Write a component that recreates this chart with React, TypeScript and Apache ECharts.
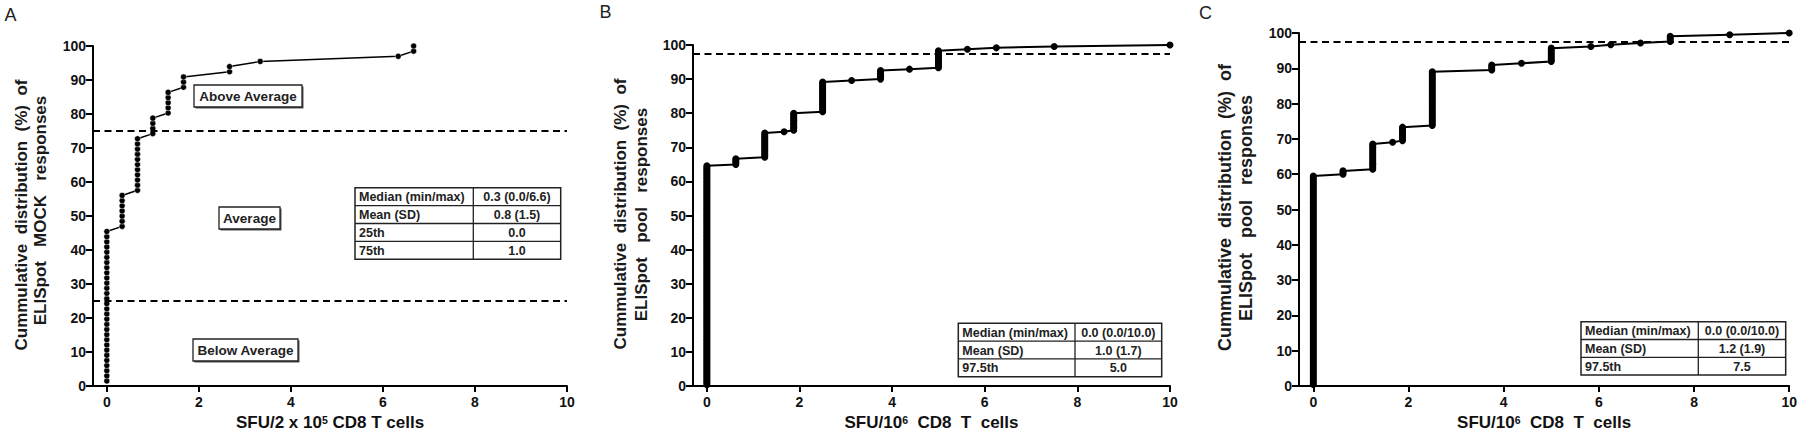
import React, { useEffect, useRef } from 'react';
import * as echarts from 'echarts';

// ---------- data ----------
const xTicks = [0, 2, 4, 6, 8, 10];

// Panel A: observed SFU values and number of donors at each value
const valuesA = [0, 0.333, 0.667, 1.0, 1.333, 1.667, 2.667, 3.333, 6.333, 6.667];
const countsA = [30, 7, 11, 4, 5, 3, 2, 1, 1, 2];
const thresholdsA = [75, 25];

// Panel B
const valuesB = [0, 0.625, 1.25, 1.667, 1.875, 2.5, 3.125, 3.75, 4.375, 5.0, 5.625, 6.25, 7.5, 10];
const countsB = [155, 5, 18, 1, 13, 22, 1, 7, 1, 13, 1, 1, 1, 1];
const thresholdsB = [97.5];

// Panel C
const valuesC = [0, 0.625, 1.25, 1.667, 1.875, 2.5, 3.75, 4.375, 5.0, 5.833, 6.25, 6.875, 7.5, 8.75, 10];
const countsC = [125, 3, 16, 1, 9, 33, 4, 1, 9, 1, 1, 1, 4, 1, 1];
const thresholdsC = [97.5];

const tableA = [
  ['Median (min/max)', '0.3 (0.0/6.6)'],
  ['Mean (SD)', '0.8 (1.5)'],
  ['25th', '0.0'],
  ['75th', '1.0'],
];
const tableB = [
  ['Median (min/max)', '0.0 (0.0/10.0)'],
  ['Mean (SD)', '1.0 (1.7)'],
  ['97.5th', '5.0'],
];
const tableC = [
  ['Median (min/max)', '0.0 (0.0/10.0)'],
  ['Mean (SD)', '1.2 (1.9)'],
  ['97.5th', '7.5'],
];

const zoneLabelsA = ['Above Average', 'Average', 'Below Average'];
const panelLetters = ['A', 'B', 'C'];
const yTitleA = ['Cummulative distribution (%) of', 'ELISpot MOCK responses'];
const yTitleB = ['Cummulative distribution (%) of', 'ELISpot pool responses'];
const yTitleC = ['Cummulative distribution (%) of', 'ELISpot pool responses'];
const xTitleA = 'SFU/2 x 10{sup|5} CD8 T cells';
const xTitleBC = 'SFU/10{sup|6}\u00a0\u00a0CD8\u00a0\u00a0T\u00a0\u00a0cells';

// ---------- helpers ----------
const FONT = "'Liberation Sans', Arial, Helvetica, sans-serif";
const INK = '#111';

function ecdf(values: number[], counts: number[]) {
  const n = counts.reduce((a, b) => a + b, 0);
  const pts: number[][] = [];
  let i = 0;
  values.forEach((v, k) => {
    for (let j = 0; j < counts[k]; j++) {
      i++;
      pts.push([v, (i / n) * 100]);
    }
  });
  return pts;
}

function txt(x: number, y: number, text: string, size: number, opts: any = {}) {
  return {
    type: 'text',
    x,
    y,
    rotation: opts.rotation || 0,
    silent: true,
    style: {
      text,
      fontSize: size,
      fontWeight: opts.weight || 'bold',
      fontFamily: FONT,
      fill: opts.fill || INK,
      align: opts.align || 'center',
      textAlign: opts.align || 'center',
      verticalAlign: 'middle',
      textVerticalAlign: 'middle',
    },
  };
}

function yTitle(cx1: number, cy1: number, cx2: number, cy2: number, lines: string[], size: number, sp1: number, sp2: number) {
  return [
    txt(cx1, cy1, lines[0].split(' ').join('\u00a0'.repeat(sp1)), size, { rotation: Math.PI / 2, fill: '#1a1a1a' }),
    txt(cx2, cy2, lines[1].split(' ').join('\u00a0'.repeat(sp2)), size, { rotation: Math.PI / 2, fill: '#1a1a1a' }),
  ];
}

function table(x: number, y: number, w1: number, w2: number, rh: number, rows: string[][]) {
  const els: any[] = [];
  const h = rh * rows.length;
  els.push({
    type: 'rect', silent: true,
    shape: { x, y, width: w1 + w2, height: h },
    style: { fill: '#fff', stroke: '#222', lineWidth: 1.5 },
  });
  for (let r = 1; r < rows.length; r++) {
    els.push({
      type: 'line', silent: true,
      shape: { x1: x, y1: y + r * rh, x2: x + w1 + w2, y2: y + r * rh },
      style: { stroke: '#222', lineWidth: 1.3 },
    });
  }
  els.push({
    type: 'line', silent: true,
    shape: { x1: x + w1, y1: y, x2: x + w1, y2: y + h },
    style: { stroke: '#222', lineWidth: 1.3 },
  });
  rows.forEach((row, r) => {
    const cy = y + r * rh + rh / 2 + 0.5;
    els.push(txt(x + 4, cy, row[0], 12.5, { align: 'left', fill: '#222' }));
    els.push(txt(x + w1 + w2 / 2, cy, row[1], 12.5, { fill: '#222' }));
  });
  return els;
}

function zoneBox(cx: number, cy: number, w: number, h: number, text: string) {
  return [
    {
      type: 'rect', silent: true,
      shape: { x: cx - w / 2 + 1.5, y: cy - h / 2 + 1.5, width: w, height: h },
      style: { fill: '#555' },
    },
    {
      type: 'rect', silent: true,
      shape: { x: cx - w / 2, y: cy - h / 2, width: w, height: h },
      style: { fill: '#fff', stroke: '#222', lineWidth: 1.3 },
    },
    txt(cx, cy + 0.5, text, 13.5, { fill: '#222' }),
  ];
}

function xAxisCfg(idx: number, name: string, gap: number) {
  return {
    type: 'value',
    gridIndex: idx,
    min: -0.3,
    max: 10,
    name,
    nameLocation: 'middle',
    nameGap: gap,
    nameTextStyle: {
      fontSize: 17,
      fontWeight: 'bold',
      fontFamily: FONT,
      color: INK,
      rich: {
        sup: { fontSize: 10.5, fontWeight: 'bold', fontFamily: FONT, color: INK, verticalAlign: 'top', lineHeight: 11 },
      },
    },
    axisLine: { show: true, onZero: false, lineStyle: { color: '#000', width: 2 } },
    axisTick: { show: true, length: 6, customValues: xTicks, lineStyle: { color: '#000', width: 2 } },
    axisLabel: { customValues: xTicks, margin: 9, fontSize: 14, fontWeight: 'bold', fontFamily: FONT, color: INK },
    splitLine: { show: false },
  };
}

function yAxisCfg(idx: number) {
  return {
    type: 'value',
    gridIndex: idx,
    min: 0,
    max: 100,
    interval: 10,
    axisLine: { show: true, onZero: false, lineStyle: { color: '#000', width: 2 } },
    axisTick: { show: true, length: 7, lineStyle: { color: '#000', width: 2 } },
    axisLabel: { margin: 7, fontSize: 14, fontWeight: 'bold', fontFamily: FONT, color: INK },
    splitLine: { show: false },
  };
}

function markLines(th: number[]) {
  return {
    silent: true,
    symbol: ['none', 'none'],
    label: { show: false },
    lineStyle: { color: '#000', width: 2, type: [7, 4.5] },
    data: th.map((v) => ({ yAxis: v })),
  };
}

function lineSeries(idx: number, data: number[][], size: number, width: number, th: number[], beaded: boolean) {
  return {
    type: 'line',
    xAxisIndex: idx,
    yAxisIndex: idx,
    data,
    clip: false,
    symbol: 'circle',
    symbolSize: size,
    showAllSymbol: true,
    lineStyle: { color: '#000', width },
    itemStyle: beaded
      ? { color: '#000', borderColor: 'rgba(255,255,255,0.75)', borderWidth: 0.6 }
      : { color: '#000' },
    markLine: markLines(th),
    z: 3,
  };
}

export default function App() {
  const ref = useRef<HTMLDivElement>(null);

  useEffect(() => {
    document.body.style.margin = '0';
    if (!ref.current) return;
    const chart = echarts.init(ref.current, undefined, { renderer: 'svg' });

    const graphic: any[] = [
      txt(10.5, 15, panelLetters[0], 18, { weight: 'normal', fill: '#222' }),
      txt(605.5, 12, panelLetters[1], 18, { weight: 'normal', fill: '#222' }),
      txt(1205.5, 12.5, panelLetters[2], 18, { weight: 'normal', fill: '#222' }),
      ...yTitle(21, 215, 40, 210.5, yTitleA, 17, 2, 3),
      ...yTitle(620.5, 214, 641.5, 214.5, yTitleB, 17, 2, 3),
      ...yTitle(1224.5, 207.5, 1245.5, 208, yTitleC, 18, 2, 3),
      ...zoneBox(248, 96, 108, 22, zoneLabelsA[0]),
      ...zoneBox(249.5, 218, 61, 22, zoneLabelsA[1]),
      ...zoneBox(245.5, 350, 105, 22, zoneLabelsA[2]),
      ...table(355, 187.7, 118.3, 87.4, 17.9, tableA),
      ...table(958.3, 323.3, 116.7, 86.7, 17.8, tableB),
      ...table(1581, 321.7, 117.3, 87.4, 17.8, tableC),
    ];

    chart.setOption({
      animation: false,
      backgroundColor: '#fff',
      grid: [
        { left: 93, top: 46, width: 474, height: 344 },
        { left: 693, top: 45, width: 477, height: 346 },
        { left: 1299, top: 33, width: 493, height: 357 },
      ],
      xAxis: [xAxisCfg(0, xTitleA, 27), xAxisCfg(1, xTitleBC, 26), xAxisCfg(2, xTitleBC, 27)],
      yAxis: [yAxisCfg(0), yAxisCfg(1), yAxisCfg(2)],
      series: [
        lineSeries(0, ecdf(valuesA, countsA), 6, 1.5, thresholdsA, true),
        lineSeries(1, ecdf(valuesB, countsB), 7, 2, thresholdsB, false),
        lineSeries(2, ecdf(valuesC, countsC), 7, 2, thresholdsC, false),
      ],
      graphic: { elements: graphic },
    });

    return () => chart.dispose();
  }, []);

  return <div ref={ref} style={{ width: 1800, height: 436 }} />;
}
